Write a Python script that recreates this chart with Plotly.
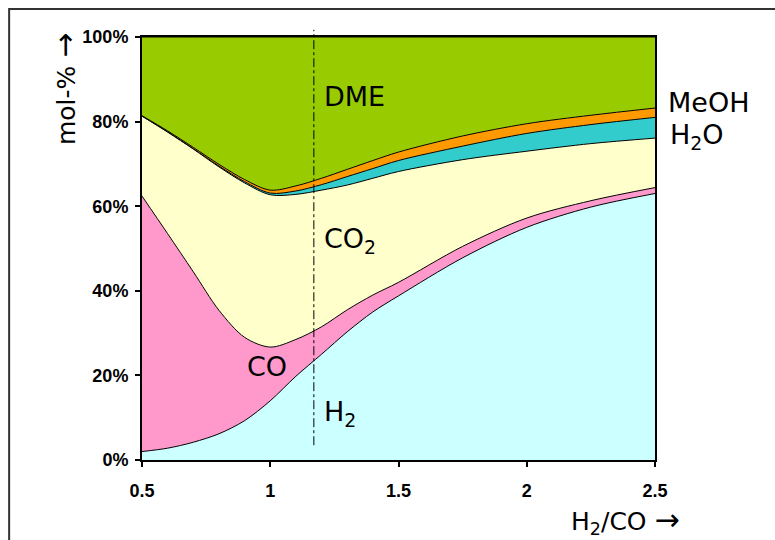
import plotly.graph_objects as go

# H2/CO ratio
ratio = [0.5, 0.6, 0.7, 0.8, 0.9, 1.0, 1.1, 1.2, 1.3, 1.4, 1.5, 1.75, 2.0, 2.25, 2.5]
# composition in mol-% (stacked bottom to top)
h2   = [2.0, 2.8, 4.2, 6.2, 9.3, 14.0, 19.8, 25.0, 30.3, 35.0, 38.8, 47.8, 55.0, 59.8, 63.0]
co   = [60.4, 50.7, 40.3, 29.2, 19.7, 12.7, 8.7, 6.5, 5.2, 4.0, 3.2, 2.7, 2.2, 1.5, 1.4]
co2  = [18.9, 24.0, 29.0, 33.9, 36.5, 36.0, 34.3, 32.3, 29.5, 27.6, 26.2, 20.5, 15.8, 13.5, 11.7]
h2o  = [0.0, 0.1, 0.1, 0.2, 0.3, 0.4, 0.8, 1.3, 2.0, 2.3, 2.6, 3.2, 4.2, 4.5, 4.9]
meoh = [0.1, 0.2, 0.3, 0.4, 0.5, 0.7, 1.2, 1.5, 1.7, 1.9, 2.0, 2.4, 2.3, 2.2, 2.2]
dme  = [18.6, 22.2, 26.1, 30.1, 33.7, 36.2, 35.2, 33.4, 31.3, 29.2, 27.2, 23.4, 20.5, 18.5, 16.8]

series = [
    ("H2", h2, "#CCFFFF"),
    ("CO", co, "#FF99CC"),
    ("CO2", co2, "#FFFFCC"),
    ("H2O", h2o, "#33CCCC"),
    ("MeOH", meoh, "#FF9900"),
    ("DME", dme, "#99CC00"),
]

x_ticks = [0.5, 1, 1.5, 2, 2.5]
x_ticklabels = ["0.5", "1", "1.5", "2", "2.5"]
y_ticks = [0, 20, 40, 60, 80, 100]
y_ticklabels = ["0%", "20%", "40%", "60%", "80%", "100%"]
marker_ratio = 1.17

fig = go.Figure()
for name, vals, col in series:
    fig.add_trace(go.Scatter(
        x=ratio, y=vals, name=name, stackgroup="one", mode="lines",
        line=dict(color="black", width=1, shape="spline", smoothing=0.9),
        fillcolor=col, hoverinfo="skip", showlegend=False,
    ))

tickfont = dict(family="Liberation Sans Narrow, Arial Narrow, Liberation Sans, sans-serif",
                size=18, color="black", weight="bold")
fig.update_layout(
    width=775, height=540,
    margin=dict(l=142, r=120, t=37, b=80),
    paper_bgcolor="white", plot_bgcolor="white",
    xaxis=dict(range=[0.5, 2.5], tickvals=x_ticks, ticktext=x_ticklabels,
               showgrid=False, zeroline=False, showline=True, linecolor="black",
               linewidth=2, mirror=True, ticks="outside", ticklen=5, tickwidth=1.5,
               tickcolor="black", tickfont=tickfont, ticklabelstandoff=8),
    yaxis=dict(range=[0, 100], tickvals=y_ticks, ticktext=y_ticklabels,
               showgrid=False, zeroline=False, showline=True, linecolor="black",
               linewidth=2, mirror=True, ticks="outside", ticklen=5, tickwidth=1.5,
               tickcolor="black", tickfont=tickfont, ticklabelstandoff=3),
)

fig.add_shape(type="line", xref="x", yref="paper", x0=marker_ratio, x1=marker_ratio,
              y0=0.035, y1=1.017, line=dict(color="black", width=1, dash="dashdot"))

# outer frame (only its left and top edges fall inside the picture)
fig.add_shape(type="rect", xref="paper", yref="paper", x0=-0.259, x1=1.3,
              y0=-0.3, y1=1.066, line=dict(color="#333333", width=2),
              fillcolor="rgba(0,0,0,0)", layer="above")

lab = dict(family="DejaVu Sans, Liberation Sans, sans-serif", size=27, color="black")
def ann(text, x, y, xref="x", yref="y", xanchor="left", size=27, **kw):
    fig.add_annotation(text=text, x=x, y=y, xref=xref, yref=yref, showarrow=False,
                       xanchor=xanchor, yanchor="middle", font=dict(lab, size=size), **kw)

arrow = '<span style="font-size:30px">→</span>'
ann("DME", 1.2, 86)
ann("CO<sub>2</sub>", 1.2, 52)
ann("CO", 0.9, 22)
ann("H<sub>2</sub>", 1.2, 11)
ann("MeOH", 1.022, 0.844, xref="paper", yref="paper")
ann("H<sub>2</sub>O", 1.025, 0.764, xref="paper", yref="paper")
ann("mol-% " + arrow, -0.152, 0.877, xref="paper", yref="paper", xanchor="center",
    textangle=-90, size=25)
ann("H<sub>2</sub>/CO " + arrow, 0.942, -0.142, xref="paper", yref="paper",
    xanchor="center", size=25)

fig.write_html("out.html", config={"displayModeBar": False},
               post_script="document.body.style.margin='0';")
